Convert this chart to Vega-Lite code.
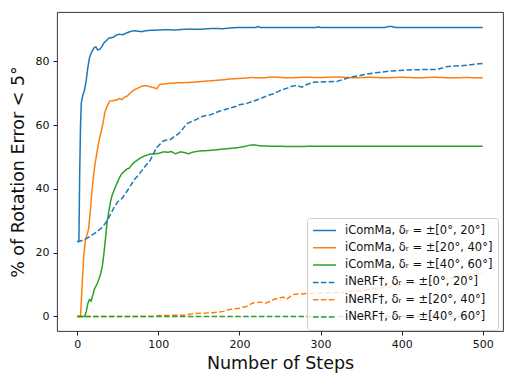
{
  "$schema": "https://vega.github.io/schema/vega-lite/v6.json",
  "autosize": {"type": "none"},
  "padding": {"left": 57, "top": 12, "right": 12, "bottom": 55},
  "width": 446,
  "height": 319,
  "background": "white",
  "config": {
    "font": "DejaVu Sans",
    "view": {"stroke": "#222", "strokeWidth": 0.9},
    "axis": {"domain": false, "grid": false, "tickColor": "#222", "tickSize": 4, "labelColor": "#111", "labelFontSize": 11, "titleFontWeight": "normal", "titleColor": "#111", "titleFontSize": 17.5}
  },
  "data": {"values": [
    {"s":"A","step":0,"value":23.5},{"s":"A","step":2,"value":23.5},{"s":"A","step":3,"value":45},{"s":"A","step":4,"value":60},{"s":"A","step":5,"value":67},{"s":"A","step":7,"value":69.5},{"s":"A","step":9,"value":71},{"s":"A","step":11,"value":74},{"s":"A","step":13,"value":78},{"s":"A","step":15,"value":81},{"s":"A","step":17,"value":82.5},{"s":"A","step":19,"value":83.5},{"s":"A","step":21,"value":84.3},{"s":"A","step":23,"value":84.5},{"s":"A","step":25,"value":83.6},{"s":"A","step":28,"value":83.8},{"s":"A","step":30,"value":84.5},{"s":"A","step":33,"value":85.8},{"s":"A","step":36,"value":86.5},{"s":"A","step":39,"value":87.3},{"s":"A","step":42,"value":87.4},{"s":"A","step":45,"value":87.6},{"s":"A","step":48,"value":88.2},{"s":"A","step":52,"value":88.5},{"s":"A","step":56,"value":88.3},{"s":"A","step":60,"value":88.8},{"s":"A","step":65,"value":89.3},{"s":"A","step":70,"value":89.6},{"s":"A","step":75,"value":89.4},{"s":"A","step":80,"value":89.3},{"s":"A","step":85,"value":89.6},{"s":"A","step":90,"value":89.7},{"s":"A","step":100,"value":89.8},{"s":"A","step":110,"value":89.9},{"s":"A","step":120,"value":89.8},{"s":"A","step":130,"value":90.0},{"s":"A","step":140,"value":90.1},{"s":"A","step":150,"value":90.0},{"s":"A","step":160,"value":90.2},{"s":"A","step":170,"value":90.3},{"s":"A","step":180,"value":90.2},{"s":"A","step":190,"value":90.5},{"s":"A","step":200,"value":90.6},{"s":"A","step":220,"value":90.6},{"s":"A","step":223,"value":90.9},{"s":"A","step":226,"value":90.6},{"s":"A","step":295,"value":90.6},{"s":"A","step":297,"value":90.8},{"s":"A","step":300,"value":90.6},{"s":"A","step":380,"value":90.6},{"s":"A","step":383,"value":90.9},{"s":"A","step":388,"value":90.9},{"s":"A","step":392,"value":90.6},{"s":"A","step":500,"value":90.6},

    {"s":"B","step":0,"value":0},{"s":"B","step":4,"value":0},{"s":"B","step":6,"value":10},{"s":"B","step":8,"value":19},{"s":"B","step":10,"value":24},{"s":"B","step":12,"value":25.5},{"s":"B","step":14,"value":27.5},{"s":"B","step":16,"value":33},{"s":"B","step":18,"value":39},{"s":"B","step":20,"value":44},{"s":"B","step":22,"value":48},{"s":"B","step":24,"value":51},{"s":"B","step":26,"value":54},{"s":"B","step":28,"value":56.5},{"s":"B","step":30,"value":58.5},{"s":"B","step":32,"value":61},{"s":"B","step":34,"value":64},{"s":"B","step":37,"value":66},{"s":"B","step":40,"value":67.5},{"s":"B","step":44,"value":67.7},{"s":"B","step":48,"value":67.8},{"s":"B","step":52,"value":68.3},{"s":"B","step":55,"value":68},{"s":"B","step":58,"value":68.7},{"s":"B","step":62,"value":69.2},{"s":"B","step":66,"value":70.2},{"s":"B","step":70,"value":71},{"s":"B","step":74,"value":71.5},{"s":"B","step":78,"value":72},{"s":"B","step":82,"value":72.3},{"s":"B","step":86,"value":72.3},{"s":"B","step":90,"value":72},{"s":"B","step":95,"value":71.7},{"s":"B","step":98,"value":71.4},{"s":"B","step":102,"value":72.8},{"s":"B","step":108,"value":72.9},{"s":"B","step":114,"value":73.1},{"s":"B","step":120,"value":73.2},{"s":"B","step":130,"value":73.3},{"s":"B","step":140,"value":73.4},{"s":"B","step":150,"value":73.6},{"s":"B","step":160,"value":73.8},{"s":"B","step":170,"value":74.0},{"s":"B","step":180,"value":74.2},{"s":"B","step":190,"value":74.5},{"s":"B","step":200,"value":74.6},{"s":"B","step":215,"value":74.9},{"s":"B","step":230,"value":74.8},{"s":"B","step":240,"value":75.1},{"s":"B","step":260,"value":74.8},{"s":"B","step":280,"value":75.0},{"s":"B","step":300,"value":74.9},{"s":"B","step":320,"value":75.1},{"s":"B","step":340,"value":74.8},{"s":"B","step":360,"value":75.0},{"s":"B","step":380,"value":74.8},{"s":"B","step":400,"value":75.0},{"s":"B","step":420,"value":74.8},{"s":"B","step":440,"value":75.0},{"s":"B","step":460,"value":74.8},{"s":"B","step":480,"value":74.9},{"s":"B","step":500,"value":74.8},

    {"s":"C","step":0,"value":0},{"s":"C","step":9,"value":0},{"s":"C","step":11,"value":1.5},{"s":"C","step":13,"value":4},{"s":"C","step":15,"value":5.3},{"s":"C","step":17,"value":4.8},{"s":"C","step":19,"value":6.5},{"s":"C","step":21,"value":8.5},{"s":"C","step":23,"value":9.5},{"s":"C","step":25,"value":10.5},{"s":"C","step":27,"value":12},{"s":"C","step":29,"value":13.5},{"s":"C","step":31,"value":16},{"s":"C","step":33,"value":20},{"s":"C","step":35,"value":25},{"s":"C","step":37,"value":30},{"s":"C","step":39,"value":33},{"s":"C","step":41,"value":36},{"s":"C","step":43,"value":38},{"s":"C","step":46,"value":40},{"s":"C","step":49,"value":41.8},{"s":"C","step":52,"value":43.5},{"s":"C","step":55,"value":44.8},{"s":"C","step":58,"value":45.5},{"s":"C","step":61,"value":46.2},{"s":"C","step":64,"value":46.5},{"s":"C","step":67,"value":47.5},{"s":"C","step":70,"value":48.3},{"s":"C","step":74,"value":49},{"s":"C","step":78,"value":49.7},{"s":"C","step":82,"value":50.2},{"s":"C","step":86,"value":50.6},{"s":"C","step":90,"value":50.9},{"s":"C","step":95,"value":51},{"s":"C","step":100,"value":51.1},{"s":"C","step":106,"value":51.6},{"s":"C","step":112,"value":51.5},{"s":"C","step":116,"value":51.7},{"s":"C","step":121,"value":51.0},{"s":"C","step":127,"value":51.6},{"s":"C","step":132,"value":51.4},{"s":"C","step":137,"value":51.0},{"s":"C","step":142,"value":51.5},{"s":"C","step":151,"value":51.9},{"s":"C","step":160,"value":52.0},{"s":"C","step":170,"value":52.2},{"s":"C","step":176,"value":52.4},{"s":"C","step":185,"value":52.6},{"s":"C","step":197,"value":52.9},{"s":"C","step":205,"value":53.2},{"s":"C","step":213,"value":53.7},{"s":"C","step":218,"value":53.8},{"s":"C","step":225,"value":53.5},{"s":"C","step":238,"value":53.4},{"s":"C","step":260,"value":53.3},{"s":"C","step":300,"value":53.35},{"s":"C","step":500,"value":53.35},

    {"s":"D","step":0,"value":23.4},{"s":"D","step":6,"value":23.8},{"s":"D","step":12,"value":24.5},{"s":"D","step":18,"value":25.5},{"s":"D","step":24,"value":26.5},{"s":"D","step":30,"value":27.8},{"s":"D","step":34,"value":29},{"s":"D","step":38,"value":30.5},{"s":"D","step":42,"value":32.5},{"s":"D","step":46,"value":34.5},{"s":"D","step":50,"value":36},{"s":"D","step":55,"value":37},{"s":"D","step":60,"value":38.8},{"s":"D","step":65,"value":40.7},{"s":"D","step":70,"value":42.8},{"s":"D","step":75,"value":44.2},{"s":"D","step":80,"value":45.8},{"s":"D","step":85,"value":47.5},{"s":"D","step":90,"value":49},{"s":"D","step":95,"value":51.5},{"s":"D","step":98,"value":53},{"s":"D","step":102,"value":54},{"s":"D","step":106,"value":55},{"s":"D","step":110,"value":55.3},{"s":"D","step":115,"value":55.5},{"s":"D","step":120,"value":56.5},{"s":"D","step":125,"value":57.3},{"s":"D","step":130,"value":58.8},{"s":"D","step":135,"value":60.4},{"s":"D","step":140,"value":61},{"s":"D","step":147,"value":61.8},{"s":"D","step":155,"value":62.8},{"s":"D","step":164,"value":63.2},{"s":"D","step":170,"value":63.8},{"s":"D","step":176,"value":64.4},{"s":"D","step":185,"value":65.1},{"s":"D","step":195,"value":65.8},{"s":"D","step":200,"value":66.4},{"s":"D","step":209,"value":66.8},{"s":"D","step":217,"value":67.5},{"s":"D","step":225,"value":68.2},{"s":"D","step":235,"value":69.3},{"s":"D","step":242,"value":69.8},{"s":"D","step":250,"value":70.8},{"s":"D","step":258,"value":71.5},{"s":"D","step":265,"value":72.2},{"s":"D","step":270,"value":72.4},{"s":"D","step":277,"value":71.9},{"s":"D","step":284,"value":72.8},{"s":"D","step":291,"value":73.4},{"s":"D","step":300,"value":73.5},{"s":"D","step":310,"value":73.6},{"s":"D","step":320,"value":73.7},{"s":"D","step":328,"value":74.3},{"s":"D","step":336,"value":75},{"s":"D","step":345,"value":75.4},{"s":"D","step":357,"value":76},{"s":"D","step":368,"value":76.4},{"s":"D","step":381,"value":76.8},{"s":"D","step":395,"value":77.1},{"s":"D","step":410,"value":77.3},{"s":"D","step":425,"value":77.4},{"s":"D","step":443,"value":77.4},{"s":"D","step":450,"value":77.9},{"s":"D","step":455,"value":78.3},{"s":"D","step":465,"value":78.5},{"s":"D","step":472,"value":78.6},{"s":"D","step":485,"value":78.9},{"s":"D","step":500,"value":79.3},

    {"s":"E","step":0,"value":0},{"s":"E","step":95,"value":0},{"s":"E","step":100,"value":0.3},{"s":"E","step":131,"value":0.4},{"s":"E","step":143,"value":0.9},{"s":"E","step":168,"value":1.2},{"s":"E","step":180,"value":1.6},{"s":"E","step":188,"value":2.2},{"s":"E","step":200,"value":2.6},{"s":"E","step":209,"value":3.2},{"s":"E","step":217,"value":4.3},{"s":"E","step":225,"value":4.5},{"s":"E","step":233,"value":4.2},{"s":"E","step":242,"value":5.3},{"s":"E","step":254,"value":6.1},{"s":"E","step":258,"value":5.4},{"s":"E","step":266,"value":6.9},{"s":"E","step":283,"value":7.2},{"s":"E","step":300,"value":7.3},{"s":"E","step":324,"value":7.5},{"s":"E","step":345,"value":8},{"s":"E","step":370,"value":8.8},{"s":"E","step":400,"value":9.8},{"s":"E","step":430,"value":10.8},{"s":"E","step":460,"value":12},{"s":"E","step":480,"value":13},{"s":"E","step":500,"value":13.8},

    {"s":"F","step":0,"value":0},{"s":"F","step":250,"value":0},{"s":"F","step":500,"value":0}
  ]},
  "transform": [
    {"lookup": "s", "from": {"data": {"values": [
      {"s":"A","series":"iComMa, δᵣ = ±[0°, 20°]"},
      {"s":"B","series":"iComMa, δᵣ = ±[20°, 40°]"},
      {"s":"C","series":"iComMa, δᵣ = ±[40°, 60°]"},
      {"s":"D","series":"iNeRF†, δᵣ = ±[0°, 20°]"},
      {"s":"E","series":"iNeRF†, δᵣ = ±[20°, 40°]"},
      {"s":"F","series":"iNeRF†, δᵣ = ±[40°, 60°]"}
    ]}, "key": "s", "fields": ["series"]}}
  ],
  "mark": {"type": "line", "strokeWidth": 1.5, "clip": true},
  "encoding": {
    "x": {"field": "step", "type": "quantitative", "scale": {"domain": [-25, 525], "nice": false, "zero": false}, "axis": {"values": [0, 100, 200, 300, 400, 500], "title": "Number of Steps", "labelPadding": 3, "titlePadding": 5}},
    "y": {"field": "value", "type": "quantitative", "scale": {"domain": [-4.55, 95.45], "nice": false, "zero": false}, "axis": {"values": [0, 20, 40, 60, 80], "title": "% of Rotation Error < 5°", "labelPadding": 4, "titlePadding": 8}},
    "color": {"field": "series", "type": "nominal", "scale": {
      "domain": ["iComMa, δᵣ = ±[0°, 20°]", "iComMa, δᵣ = ±[20°, 40°]", "iComMa, δᵣ = ±[40°, 60°]", "iNeRF†, δᵣ = ±[0°, 20°]", "iNeRF†, δᵣ = ±[20°, 40°]", "iNeRF†, δᵣ = ±[40°, 60°]"],
      "range": ["#1f77b4", "#ff7f0e", "#2ca02c", "#1f77b4", "#ff7f0e", "#2ca02c"]},
      "legend": {"title": null, "orient": "none", "legendX": 250, "legendY": 206, "padding": 5, "symbolType": "stroke", "symbolSize": 529, "symbolStrokeWidth": 1.5, "labelFontSize": 11.5, "labelColor": "#111", "labelOffset": 8, "clipHeight": 15, "rowPadding": 2.3, "fillColor": "rgba(255,255,255,0.8)", "strokeColor": "#cccccc", "cornerRadius": 3, "labelLimit": 300}},
    "strokeDash": {"field": "series", "type": "nominal", "scale": {
      "domain": ["iComMa, δᵣ = ±[0°, 20°]", "iComMa, δᵣ = ±[20°, 40°]", "iComMa, δᵣ = ±[40°, 60°]", "iNeRF†, δᵣ = ±[0°, 20°]", "iNeRF†, δᵣ = ±[20°, 40°]", "iNeRF†, δᵣ = ±[40°, 60°]"],
      "range": [[1, 0], [1, 0], [1, 0], [5.5, 2.4], [5.5, 2.4], [5.5, 2.4]]},
      "legend": {"title": null}},
    "order": {"field": "step", "type": "quantitative"}
  }
}
